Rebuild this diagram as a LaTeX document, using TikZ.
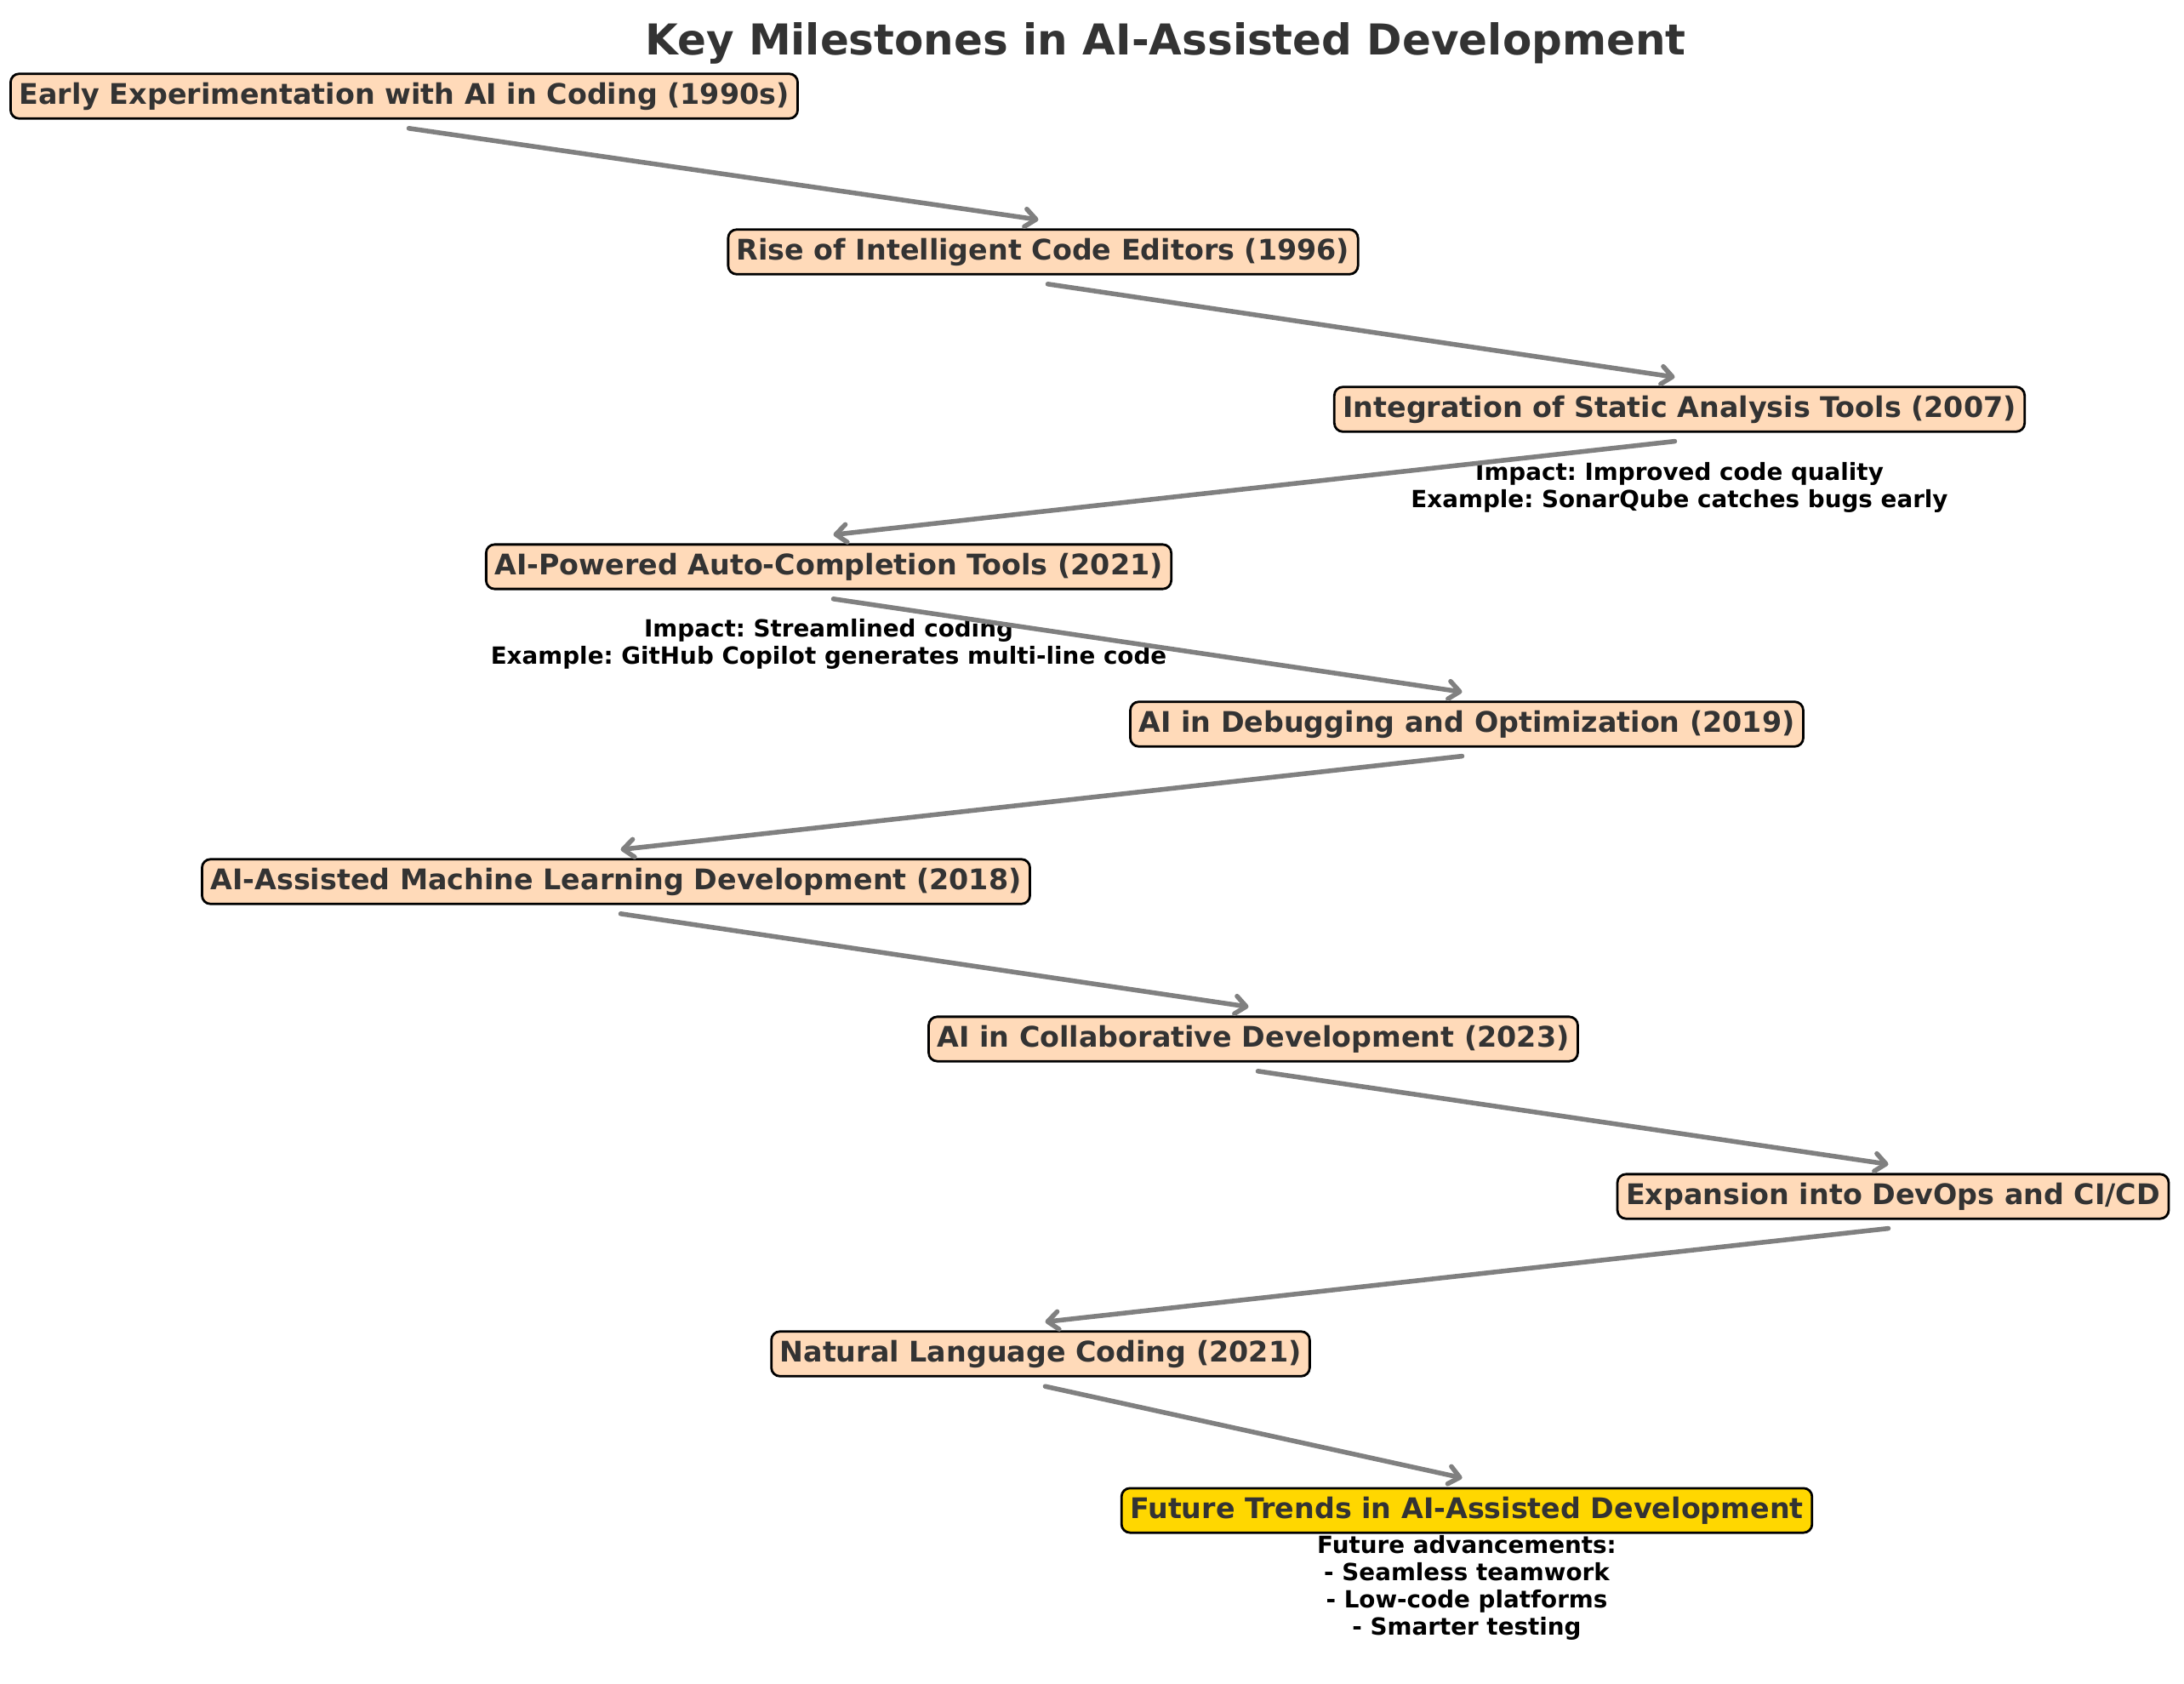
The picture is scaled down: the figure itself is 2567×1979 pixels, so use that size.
\documentclass[tikz,border=0pt]{standalone}
\usepackage{fontspec}
\setmainfont{DejaVu Sans}
\usetikzlibrary{calc,arrows.meta}
\definecolor{peach}{HTML}{FFDAB9}
\definecolor{goldc}{HTML}{FFD700}
\definecolor{txt}{HTML}{333333}
\frenchspacing
\begin{document}
\begin{tikzpicture}[x=0.36pt,y=-0.36pt,
 milestone/.style={draw=black, line width=1pt, fill=peach, rounded corners=3.6pt, inner sep=3.6pt, text=txt, font=\fontsize{12}{14}\selectfont\bfseries},
 future/.style={milestone, fill=goldc},
 note/.style={font=\fontsize{10}{11.5}\selectfont\bfseries, align=center, text=black, inner sep=0pt},
 flow/.style={draw=gray, line width=2pt, line cap=round, -{Straight Barb[length=4.5pt,width=7.5pt,round]}, shorten <=2pt, shorten >=2pt}]
\useasboundingbox (0,0) rectangle (2567,1979);
\node[font=\fontsize{18}{21}\selectfont\bfseries, text=txt] (title) at (1370,51) {Key Milestones in AI-Assisted Development};
\node[milestone] (n1) at (475,113) {Early Experimentation with AI in Coding (1990s)};
\node[milestone] (n2) at (1226,296) {Rise of Intelligent Code Editors (1996)};
\node[milestone] (n3) at (1974,481) {Integration of Static Analysis Tools (2007)};
\node[milestone] (n4) at (974,666) {AI-Powered Auto-Completion Tools (2021)};
\node[milestone] (n5) at (1724,851) {AI in Debugging and Optimization (2019)};
\node[milestone] (n6) at (724,1036) {AI-Assisted Machine Learning Development (2018)};
\node[milestone] (n7) at (1473,1221) {AI in Collaborative Development (2023)};
\node[milestone] (n8) at (2225,1406) {Expansion into DevOps and CI/CD};
\node[milestone] (n9) at (1223,1591) {Natural Language Coding (2021)};
\node[future] (n10) at (1724,1775) {Future Trends in AI-Assisted Development};
\node[note] (a3) at (1974,573) {Impact: Improved code quality\\Example: SonarQube catches bugs early};
\node[note] (a4) at (974,757) {Impact: Streamlined coding\\Example: GitHub Copilot generates multi-line code};
\node[note] (a10) at (1724,1866) {Future advancements:\\- Seamless teamwork\\- Low-code platforms\\- Smarter testing};
\foreach \a/\b in {n1/n2,n2/n3,n3/n4,n4/n5,n5/n6,n6/n7,n7/n8,n8/n9,n9/n10}
  \draw[flow] ($(\a.center)+(0,37)$) -- ($(\b.center)+(0,-37)$);
\end{tikzpicture}
\end{document}
